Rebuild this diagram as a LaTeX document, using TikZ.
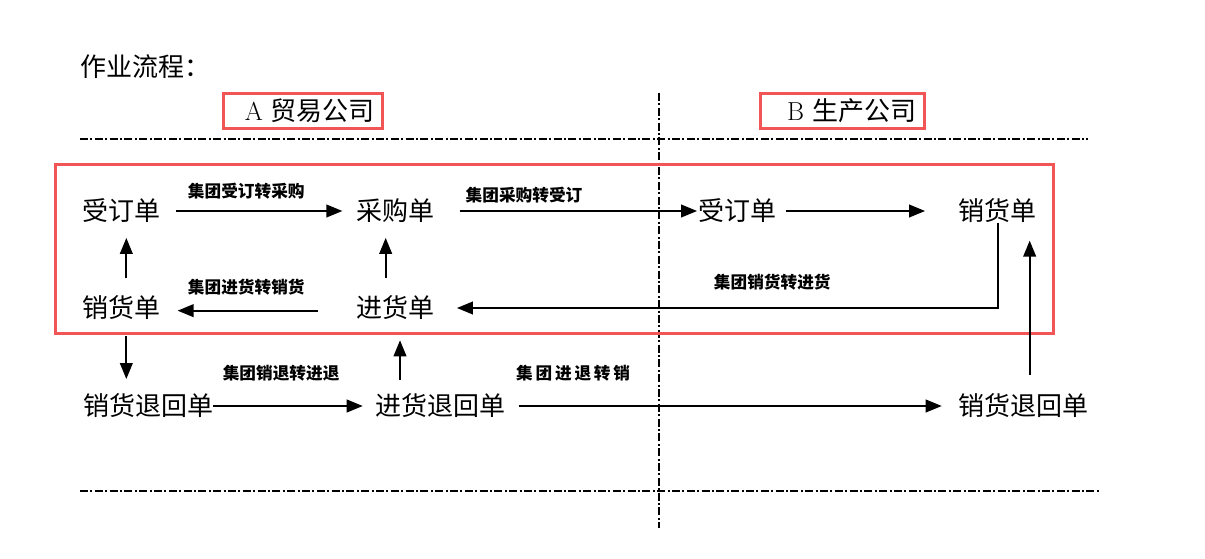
\documentclass[tikz,border=0pt]{standalone}
\usepackage{fontspec}
\newfontfamily\cjk{Noto Sans CJK SC}
\usepackage{tikz}
\usetikzlibrary{arrows.meta}
\usetikzlibrary{positioning}
\definecolor{boxred}{RGB}{242,85,85}
\tikzset{
    doc/.style={
           rectangle,
           inner sep=0pt,
           font=\cjk\fontsize{19.5}{19.5}\selectfont,
           },
    tag/.style={
           inner sep=1pt,
           font=\cjk\bfseries\fontsize{12.5}{12.5}\selectfont,
           },
    company/.style={
           rectangle,
           draw=boxred, line width=2.25pt,
           minimum height=26pt,
           inner xsep=6pt,
           font=\fontsize{19.5}{19.5}\selectfont,
           },
    divider/.style={
           line width=1.2pt,
           dash pattern=on 6pt off 1.8pt on 1.5pt off 1.8pt,
           },
    flow/.style={->, line width=1.4pt},
}

\begin{document}
\begin{tikzpicture}[x=0.75pt,y=-0.75pt,>={Triangle[length=12pt,width=9.5pt]}]
 \useasboundingbox (0,0) rectangle (1205,559);

 % title and the two companies
 \node[doc,anchor=west] (title) at (80,67) {作业流程：};
 \node[company,anchor=west] (compA) at (222,111) {\hspace{10pt}A {\cjk 贸易公司}};
 \node[company,anchor=west] (compB) at (759,111) {\hspace{14pt}B {\cjk 生产公司}};

 % dash-dot separators
 \draw[divider] (80,139) -- (1088,139);
 \draw[divider] (80,491) -- (1100,491);
 \draw[divider] (659,93) -- (659,528);

 % red frame round the order/delivery part
 \draw[draw=boxred, line width=2.25pt] (55,165) rectangle (1053,333);

 % upper row
 \node[doc] (sd1) at (121,211) {受订单};
 \node[doc, right of=sd1, node distance=205.5pt] (cg) {采购单};
 \node[doc, right of=cg, node distance=257pt] (sd2) {受订单};
 \node[doc, right of=sd2, node distance=195pt] (xh2) {销货单};

 % middle row
 \node[doc, below of=sd1, node distance=72.75pt] (xh1) {销货单};
 \node[doc, below of=cg, node distance=72.75pt] (jh) {进货单};

 % returns
 \node[doc] (xt1) at (148,406) {销货退回单};
 \node[doc] (jt) at (440,406) {进货退回单};
 \node[doc] (xt2) at (1023,406) {销货退回单};

 % horizontal flows
 \path (sd1) edge[flow, shorten <=12pt, shorten >=10pt]
             node[tag, above=7pt, pos=0.44] {集团受订转采购} (cg)
       (cg)  edge[flow, shorten <=19pt, shorten >=1pt]
             node[tag, above=4pt, pos=0.34] {集团采购转受订} (sd2)
       (sd2) edge[flow, shorten <=7pt, shorten >=25pt] (xh2)
       (xt1) edge[flow, shorten >=9pt]
             node[tag, above=17pt, pos=0.42] {集团销退转进退} (jt)
       (jt)  edge[flow, shorten <=10pt, shorten >=12pt]
             node[tag, above=17pt, pos=0.15] {集\,团\,进\,退\,转\,销} (xt2)
 ;
 \draw[flow, shorten <=28pt, shorten >=13pt]
       ([yshift=-2pt]jh.west) --
       node[tag, above=10pt, pos=0.56] {集团进货转销货} ([yshift=-2pt]xh1.east);
 \draw[flow, shorten >=17pt] (xh2.south) |-
       node[tag, above=12pt, pos=0.70] {集团销货转进货} (jh.east);

 % vertical flows
 \draw[flow, shorten <=13pt, shorten >=11pt]
       ([xshift=-7pt]jh.north) -- ([xshift=-7pt]cg.south);
 \draw[flow, shorten <=13pt, shorten >=11pt]
       ([xshift=4pt]xh1.north) -- ([xshift=4pt]sd1.south);
 \draw[flow, shorten <=12pt, shorten >=11pt]
       ([xshift=4pt]xh1.south) -- ([xshift=4pt]xh1.south |- xt1.north);
 \draw[flow, shorten <=10pt, shorten >=15pt]
       ([xshift=-30pt]jt.north) -- ([xshift=-30pt]jt.north |- jh.south);
 \draw[flow, shorten <=14pt, shorten >=13pt]
       ([xshift=5pt]xt2.north) -- ([xshift=5pt]xt2.north |- xh2.south);
\end{tikzpicture}
\end{document}
